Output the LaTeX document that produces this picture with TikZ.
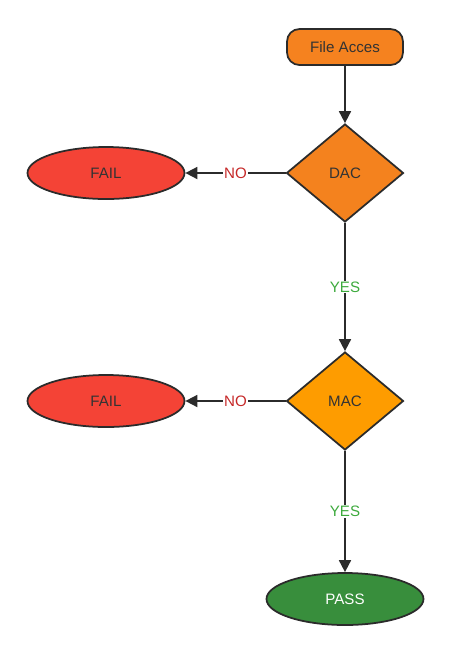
\documentclass[tikz,border=0pt]{standalone}
\usepackage{fontspec}
\setmainfont{Liberation Sans}
\usetikzlibrary{arrows.meta, positioning, shapes.geometric}

\definecolor{lineclr}{HTML}{2B2B2B}
\definecolor{txtclr}{HTML}{333333}
\definecolor{accessclr}{HTML}{F5821F}
\definecolor{dacclr}{HTML}{F4821E}
\definecolor{macclr}{HTML}{FE9C00}
\definecolor{failclr}{HTML}{F44336}
\definecolor{passclr}{HTML}{388E3C}
\definecolor{noclr}{HTML}{C62828}
\definecolor{yesclr}{HTML}{3DAA3D}

\tikzset{
  box/.style={draw=lineclr, line width=1pt, rounded corners=0.25cm, fill=accessclr,
    minimum width=2.32cm, minimum height=0.72cm, text=txtclr},
  check/.style={draw=lineclr, line width=1pt, diamond, inner sep=0pt,
    minimum width=2.34cm, minimum height=1.96cm, text=txtclr},
  result/.style={draw=lineclr, line width=1pt, ellipse, inner sep=0pt,
    minimum width=3.14cm, minimum height=1.04cm},
  flow/.style={draw=lineclr, line width=1pt, -{Triangle[length=2.4mm,width=2.4mm]}},
  nolabel/.style={fill=white, inner sep=0.5pt, text=noclr},
  yeslabel/.style={fill=white, inner sep=0.5pt, text=yesclr}
}

\begin{document}
\begin{tikzpicture}[font=\fontsize{8.6}{10}\selectfont]
\useasboundingbox (0,0) rectangle (9.04,-13.12);

% The nodes
\node [box] (access) at (6.90,-0.94) {File Acces};
\node [check, fill=dacclr] (dac) at (6.90,-3.46) {DAC};
\node [result, fill=failclr, text=txtclr] (failA) at (2.12,-3.46) {FAIL};
\node [check, fill=macclr] (mac) at (6.90,-8.02) {MAC};
\node [result, fill=failclr, text=txtclr] (failB) at (2.12,-8.02) {FAIL};
\node [result, fill=passclr, text=white] (pass) at (6.90,-11.98) {PASS};

% The connectors
\draw [flow] (access.south) -- (dac.north);
\draw [flow] (dac.west) -- node[nolabel]{NO} (failA.east);
\draw [flow] (dac.south) -- node[yeslabel]{YES} (mac.north);
\draw [flow] (mac.west) -- node[nolabel]{NO} (failB.east);
\draw [flow] (mac.south) -- node[yeslabel]{YES} (pass.north);

\end{tikzpicture}
\end{document}
